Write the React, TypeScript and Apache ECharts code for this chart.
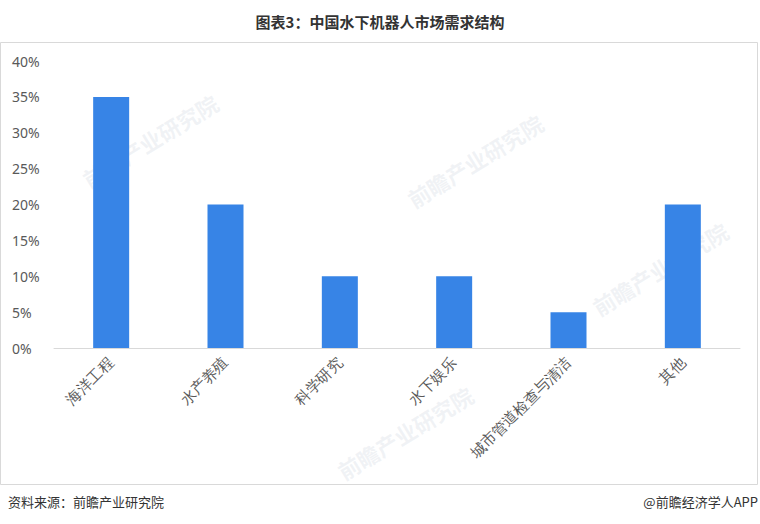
import React, { useEffect, useRef } from "react";
import * as echarts from "echarts";

const categories = ["海洋工程", "水产养殖", "科学研究", "水下娱乐", "城市管道检查与清洁", "其他"];
const shares = [35, 20, 10, 10, 5, 20];
const watermarkSpots = [
  [90, 190],
  [415, 210],
  [600, 318],
  [345, 482],
];

export default function App() {
  const ref = useRef<HTMLDivElement>(null);
  useEffect(() => {
    if (!ref.current) return;
    const chart = echarts.init(ref.current, undefined, { renderer: "svg" });
    const marks = watermarkSpots.map(([x, y]) => ({
      type: "text",
      x,
      y,
      rotation: 0.55,
      silent: true,
      z: -10,
      style: {
        text: "前瞻产业研究院",
        fontSize: 22,
        fontWeight: "bold",
        fill: "rgba(190,198,212,0.22)",
        fontFamily: "Noto Sans CJK SC",
        textVerticalAlign: "bottom",
      },
    }));
    chart.setOption({
      animation: false,
      backgroundColor: "#ffffff",
      title: {
        text: "图表3：中国水下机器人市场需求结构",
        left: "center",
        top: 9,
        textStyle: {
          fontSize: 15,
          fontWeight: "bold",
          color: "#333333",
          fontFamily: "Noto Sans CJK SC",
        },
      },
      graphic: [
        {
          type: "rect",
          shape: { x: 0.5, y: 42.5, width: 757, height: 442 },
          style: { fill: "none", stroke: "#d9d9d9", lineWidth: 1 },
        },
        ...marks,
        {
          type: "text",
          left: 8,
          top: 495,
          style: {
            text: "资料来源：前瞻产业研究院",
            fontSize: 13,
            fill: "#333333",
            fontFamily: "Noto Sans CJK SC",
          },
        },
        {
          type: "text",
          right: 2,
          top: 495,
          style: {
            text: "@前瞻经济学人APP",
            fontSize: 13,
            fill: "#333333",
            fontFamily: "Noto Sans CJK SC",
          },
        },
      ],
      grid: { left: 54, right: 20, top: 61, bottom: 176 },
      xAxis: {
        type: "category",
        data: categories,
        axisLine: { lineStyle: { color: "#d9d9d9", width: 1 } },
        axisTick: { show: false },
        axisLabel: {
          interval: 0,
          rotate: 45,
          fontSize: 15,
          color: "#595959",
          margin: 12,
          fontFamily: "serif",
        },
      },
      yAxis: {
        type: "value",
        min: 0,
        max: 40,
        interval: 5,
        splitLine: { show: false },
        axisLine: { show: false },
        axisTick: { show: false },
        axisLabel: {
          formatter: "{value}%",
          fontSize: 14,
          color: "#595959",
          align: "left",
          margin: 42,
          fontFamily: "Noto Sans, sans-serif",
        },
      },
      series: [
        {
          type: "bar",
          data: shares,
          barWidth: 36,
          itemStyle: { color: "#3784E6" },
        },
      ],
    });
    return () => chart.dispose();
  }, []);
  return <div ref={ref} style={{ width: 760, height: 524, position: "absolute", left: 0, top: 0 }} />;
}
